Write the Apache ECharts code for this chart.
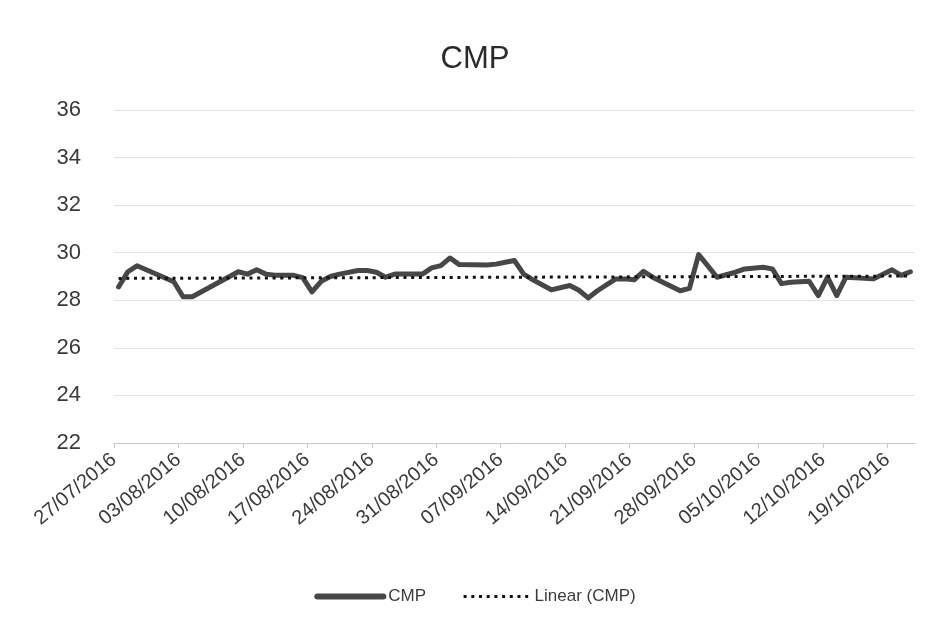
<!DOCTYPE html>
<html>
<head>
<meta charset="utf-8">
<script src="https://cdn.jsdelivr.net/npm/echarts@6/dist/echarts.min.js"></script>
<style>
  html, body { margin: 0; padding: 0; background: #fff; }
  #chart { width: 950px; height: 634px; }
</style>
</head>
<body>
<div id="chart"></div>
<script>
// axis runs from the start of 27/07 to the end of 21/10
var axisStart = '27/07/2016';
var axisEnd = '22/10/2016';
var tickLabels = ['27/07/2016', '03/08/2016', '10/08/2016', '17/08/2016', '24/08/2016',
    '31/08/2016', '07/09/2016', '14/09/2016', '21/09/2016', '28/09/2016',
    '05/10/2016', '12/10/2016', '19/10/2016'];

var cmpDates = ['27/07/2016', '28/07/2016', '29/07/2016', '02/08/2016', '03/08/2016',
    '04/08/2016', '09/08/2016', '10/08/2016', '11/08/2016', '12/08/2016', '13/08/2016',
    '15/08/2016', '16/08/2016', '17/08/2016', '18/08/2016', '19/08/2016', '20/08/2016',
    '22/08/2016', '23/08/2016', '24/08/2016', '25/08/2016', '26/08/2016', '29/08/2016',
    '30/08/2016', '31/08/2016', '01/09/2016', '02/09/2016', '05/09/2016', '06/09/2016',
    '07/09/2016', '08/09/2016', '09/09/2016', '10/09/2016', '12/09/2016', '14/09/2016',
    '15/09/2016', '16/09/2016', '17/09/2016', '19/09/2016', '20/09/2016', '21/09/2016',
    '22/09/2016', '23/09/2016', '26/09/2016', '27/09/2016', '28/09/2016', '29/09/2016',
    '30/09/2016', '02/10/2016', '03/10/2016', '05/10/2016', '06/10/2016', '07/10/2016',
    '08/10/2016', '10/10/2016', '11/10/2016', '12/10/2016', '13/10/2016', '14/10/2016',
    '17/10/2016', '19/10/2016', '20/10/2016', '21/10/2016'];
var cmpValues = [28.56, 29.2, 29.45, 28.78, 28.15,
    28.15, 29.2, 29.1, 29.28, 29.1, 29.05,
    29.05, 28.95, 28.35, 28.8, 29.0, 29.1,
    29.25, 29.25, 29.18, 28.97, 29.1, 29.1,
    29.36, 29.46, 29.78, 29.5, 29.48, 29.52,
    29.6, 29.67, 29.1, 28.86, 28.44, 28.62,
    28.42, 28.1, 28.4, 28.9, 28.9, 28.86,
    29.22, 28.97, 28.4, 28.5, 29.92, 29.45,
    28.97, 29.18, 29.32, 29.39, 29.32, 28.7,
    28.76, 28.8, 28.2, 28.97, 28.2, 28.97,
    28.9, 29.28, 29.05, 29.2];

// linear trend line, read at its two ends
var trendDates = ['27/07/2016', '21/10/2016'];
var trendValues = [28.92, 29.02];

var yTicks = [22, 24, 26, 28, 30, 32, 34, 36];

function dayIndex(s) {
    var p = s.split('/');
    var a = axisStart.split('/');
    return (Date.UTC(+p[2], +p[1] - 1, +p[0]) - Date.UTC(+a[2], +a[1] - 1, +a[0])) / 86400000;
}

function toPoints(dates, values) {
    return dates.map(function(d, i) {
        return [dayIndex(d) + 0.5, values[i]];
    });
}

var textColor = '#3a3a3a';
var font = 'Liberation Sans';

var chart = echarts.init(document.getElementById('chart'), null, { renderer: 'canvas' });
chart.setOption({
    backgroundColor: '#fff',
    animation: false,
    title: {
        text: 'CMP',
        left: 'center',
        top: 39,
        textStyle: { fontFamily: font, fontSize: 31, fontWeight: 'normal', color: '#2a2a2a' }
    },
    legend: {
        bottom: 24,
        left: 'center',
        itemWidth: 66,
        itemHeight: 12,
        itemGap: 36,
        itemStyle: { opacity: 0 },
        textStyle: { fontFamily: font, fontSize: 17, color: textColor },
        data: [
            { name: 'CMP', lineStyle: { width: 6 } },
            { name: 'Linear (CMP)', lineStyle: { width: 3 } }
        ]
    },
    grid: {
        left: 114,
        right: 35,
        top: 110,
        bottom: 191,
        containLabel: false
    },
    xAxis: {
        type: 'value',
        min: 0,
        max: dayIndex(axisEnd),
        interval: 7,
        axisLine: { show: true, lineStyle: { color: '#c8c8c8', width: 1 } },
        axisTick: { show: true, length: 5, lineStyle: { color: '#c8c8c8' } },
        splitLine: { show: false },
        axisLabel: {
            rotate: 40,
            margin: 14,
            showMaxLabel: false,
            fontFamily: font,
            fontSize: 20,
            color: textColor,
            formatter: function(v) {
                return tickLabels[Math.round(v / 7)] || '';
            }
        }
    },
    yAxis: {
        type: 'value',
        min: yTicks[0],
        max: yTicks[yTicks.length - 1],
        interval: 2,
        axisLine: { show: false },
        axisTick: { show: false },
        splitLine: { lineStyle: { color: '#e3e3e3', width: 1 } },
        axisLabel: { fontFamily: font, fontSize: 22, color: textColor, margin: 33 }
    },
    series: [
        {
            name: 'CMP',
            type: 'line',
            data: toPoints(cmpDates, cmpValues),
            symbol: 'none',
            lineStyle: { color: '#474747', width: 5, join: 'round', cap: 'round' },
            itemStyle: { color: '#474747' }
        },
        {
            name: 'Linear (CMP)',
            type: 'line',
            data: toPoints(trendDates, trendValues),
            symbol: 'none',
            lineStyle: { color: '#111', width: 3, type: [3, 4.7] },
            itemStyle: { color: '#111' }
        }
    ]
});
</script>
</body>
</html>
